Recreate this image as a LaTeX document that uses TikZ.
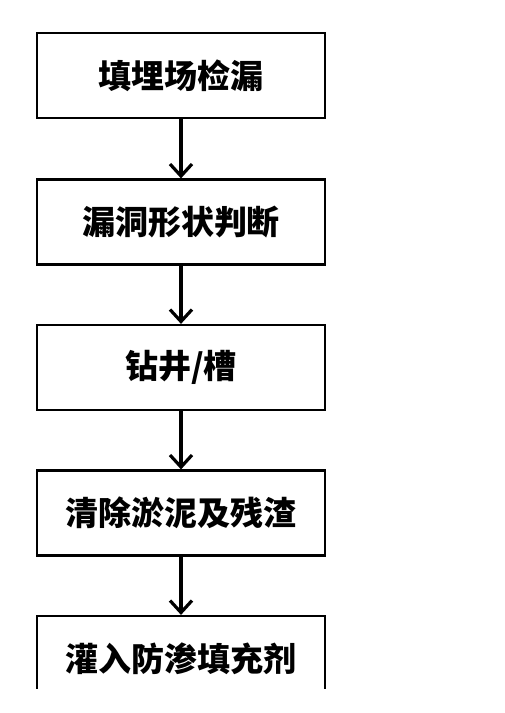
\documentclass[tikz,border=0pt]{standalone}
\usepackage{fontspec}
\usepackage{tikz}
\usetikzlibrary{arrows.meta}
\newfontfamily\cjk{Noto Sans CJK SC}

\begin{document}
\begin{tikzpicture}[x=1pt,y=1pt,
    stepbox/.style={draw, line width=2.2pt, minimum width=288pt, minimum height=85pt,
        inner sep=0pt, font=\cjk\bfseries\fontsize{33}{36}\selectfont},
    flow/.style={line width=3.2pt, -{Straight Barb[length=12pt,width=22pt,line width=3.2pt]}}]

            \useasboundingbox (0,0) rectangle (504,-713);

            \begin{scope}
                \clip (0,0) rectangle (504,-688);

                \node[stepbox] (leak)  at (181, -75.5)  {填埋场检漏};
                \node[stepbox] (shape) at (181, -222)   {漏洞形状判断};
                \node[stepbox] (drill) at (181, -367.5) {钻井/槽};
                \node[stepbox] (clean) at (181, -513)   {清除淤泥及残渣};
                \node[stepbox] (fill)  at (181, -658.5) {灌入防渗填充剂};

                \draw[flow] (leak)  -- (shape);
                \draw[flow] (shape) -- (drill);
                \draw[flow] (drill) -- (clean);
                \draw[flow] (clean) -- (fill);
            \end{scope}

            \end{tikzpicture}
\end{document}
